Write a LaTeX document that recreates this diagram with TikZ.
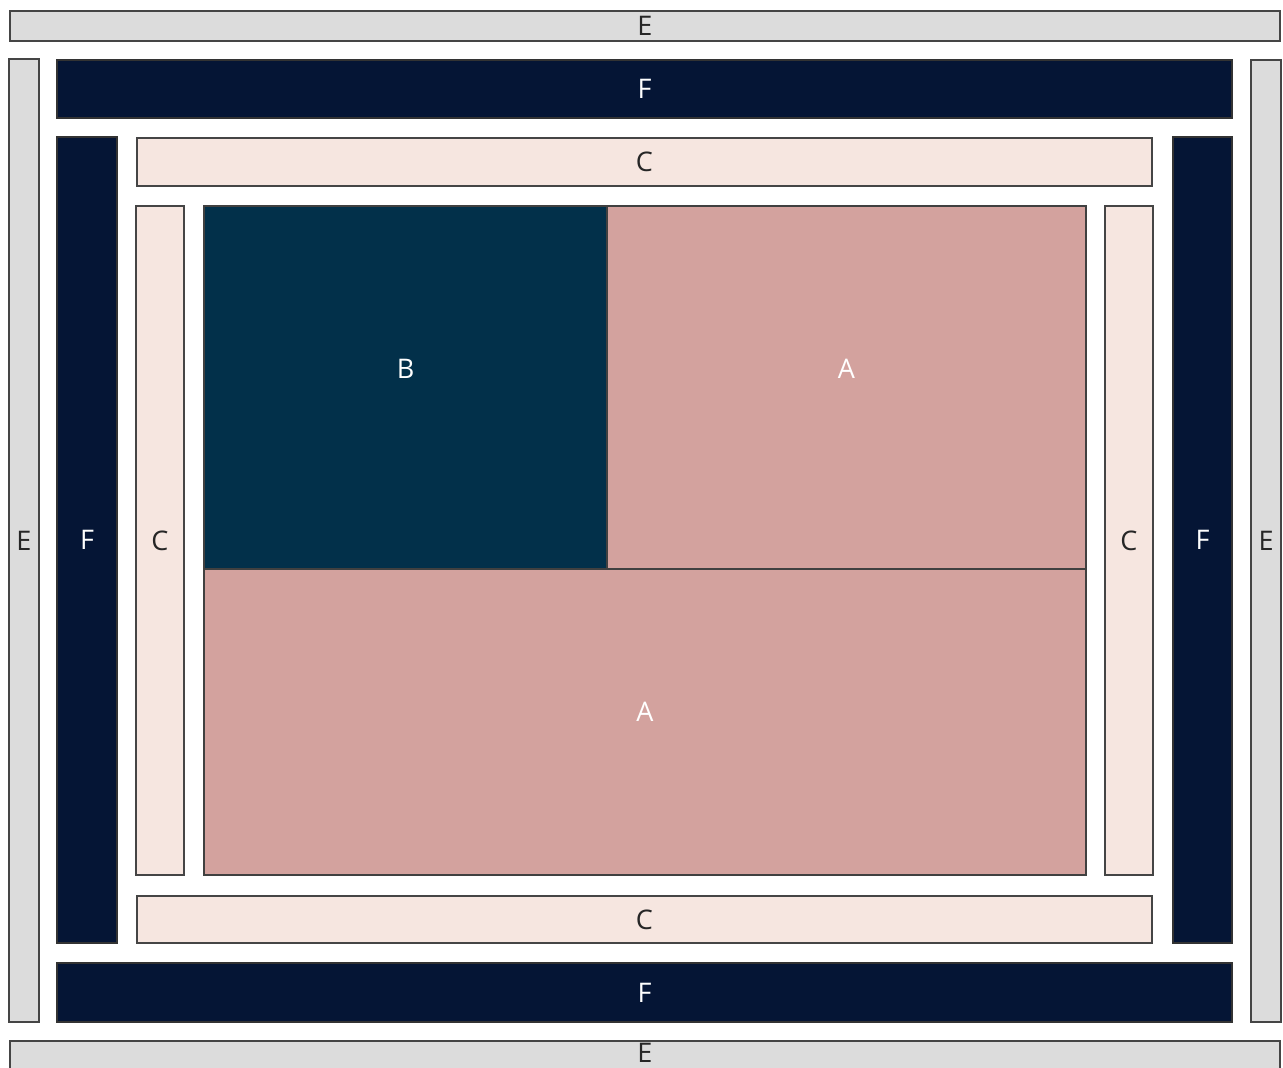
\documentclass[tikz,border=0pt]{standalone}
\usepackage{fontspec}
\setmainfont{Open Sans}
\definecolor{egray}{HTML}{DCDCDC}
\definecolor{fnavy}{HTML}{051535}
\definecolor{cblush}{HTML}{F6E6E0}
\definecolor{arose}{HTML}{D3A29E}
\definecolor{bteal}{HTML}{02304A}
\definecolor{edge}{HTML}{454545}
\begin{document}
\begin{tikzpicture}[
  x=1pt, y=-1pt,
  panel/.style={rectangle, draw=edge, line width=2.8pt, inner sep=0pt, font=\fontsize{27}{30}\selectfont},
  ebox/.style={panel, fill=egray, text=black!85},
  fbox/.style={panel, fill=fnavy, draw=black!80, text=white},
  cbox/.style={panel, fill=cblush, text=black!85},
  abox/.style={panel, fill=arose, draw=black!75, text=white},
  bbox/.style={panel, fill=bteal, draw=black!75, text=white}
]
\useasboundingbox[fill=white] (0,0) rectangle (1283,1068);

% outer frame
\node[ebox, minimum width=1270pt, minimum height=30pt] (eTop) at (645,26) {E};
\node[ebox, minimum width=1270pt, minimum height=30pt, text depth=6pt] (eBottom) at (645,1056) {E};
\node[ebox, minimum width=30pt, minimum height=963pt] (eLeft) at (24,540.5) {E};
\node[ebox, minimum width=30pt, minimum height=962pt] (eRight) at (1266,541) {E};

% dark frame
\node[fbox, minimum width=1175pt, minimum height=58pt] (fTop) at (644.5,89) {F};
\node[fbox, minimum width=1175pt, minimum height=59pt] (fBottom) at (644.5,992.5) {F};
\node[fbox, minimum width=60pt, minimum height=806pt] (fLeft) at (87,540) {F};
\node[fbox, minimum width=59pt, minimum height=806pt] (fRight) at (1202.5,540) {F};

% light frame
\node[cbox, minimum width=1015pt, minimum height=48pt] (cTop) at (644.5,162) {C};
\node[cbox, minimum width=1015pt, minimum height=47pt] (cBottom) at (644.5,919.5) {C};
\node[cbox, minimum width=48pt, minimum height=669pt] (cLeft) at (160,540.5) {C};
\node[cbox, minimum width=48pt, minimum height=669pt] (cRight) at (1129,540.5) {C};

% core blocks
\node[bbox, minimum width=403pt, minimum height=363pt, text depth=38pt] (blockB) at (405.5,387.5) {B};
\node[abox, minimum width=479pt, minimum height=363pt, text depth=38pt] (blockAtop) at (846.5,387.5) {A};
\node[abox, minimum width=882pt, minimum height=306pt, text depth=20pt] (blockAbottom) at (645,722) {A};

\end{tikzpicture}
\end{document}
